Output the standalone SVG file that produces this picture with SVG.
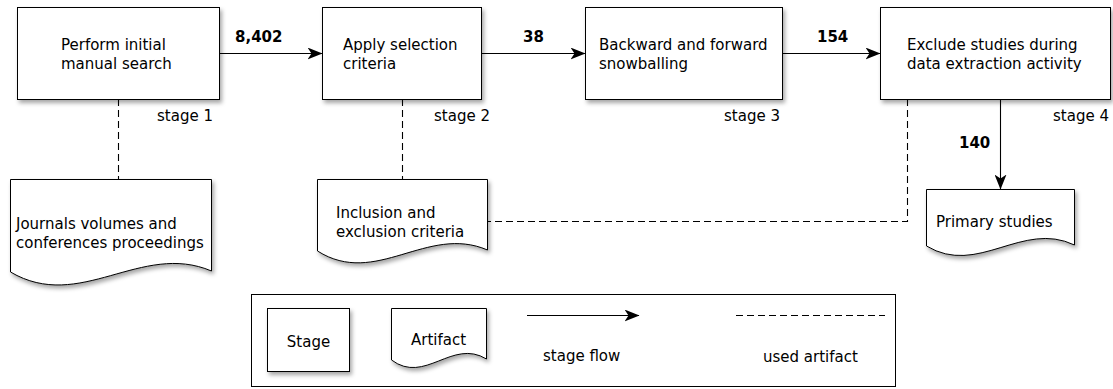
<svg xmlns="http://www.w3.org/2000/svg" width="1113" height="389" viewBox="0 0 1113 389">
<style>
text{font-family:"DejaVu Sans","Liberation Sans",sans-serif;font-size:15px;fill:#000}
.num{font-weight:bold}
.shape{fill:#fff;stroke:#000;stroke-width:1;filter:url(#sh)}
.flow{fill:none;stroke:#000;stroke-width:1.1;marker-end:url(#ah)}
.used{fill:none;stroke:#000;stroke-width:1.1;stroke-dasharray:7 4}
</style>
<defs>
<filter id="sh" x="-10%" y="-10%" width="125%" height="135%">
<feDropShadow dx="2" dy="3" stdDeviation="2" flood-color="#000" flood-opacity="0.35"/>
</filter>
<marker id="ah" viewBox="0 0 15 12" markerWidth="15" markerHeight="12" refX="14.5" refY="6" orient="auto" markerUnits="userSpaceOnUse">
<path d="M0,0 L15,6 L0,12 L4,6 Z" fill="#000"/>
</marker>
</defs>
<rect width="1113" height="389" fill="#fff"/>

<g id="connectors">
<line class="flow" x1="219" y1="53.5" x2="322" y2="53.5"/>
<line class="flow" x1="482" y1="53.5" x2="585" y2="53.5"/>
<line class="flow" x1="783" y1="53.5" x2="880" y2="53.5"/>
<line class="flow" x1="1000.5" y1="99" x2="1000.5" y2="189"/>
<line class="used" x1="118.5" y1="99" x2="118.5" y2="179"/>
<line class="used" x1="402.5" y1="99" x2="402.5" y2="179"/>
<polyline class="used" points="907.5,99 907.5,221.5 487,221.5"/>
<text class="num" x="235" y="42">8,402</text>
<text class="num" x="523" y="42">38</text>
<text class="num" x="817" y="42">154</text>
<text class="num" x="959" y="148">140</text>
</g>

<g id="stage1">
<rect class="shape" x="17.5" y="7.5" width="202" height="92"/>
<text x="61" y="50">Perform initial</text>
<text x="61" y="69">manual search</text>
<text x="157" y="121">stage 1</text>
</g>
<g id="stage2">
<rect class="shape" x="322.5" y="7.5" width="159" height="92"/>
<text x="343" y="50">Apply selection</text>
<text x="343" y="69">criteria</text>
<text x="434" y="121">stage 2</text>
</g>
<g id="stage3">
<rect class="shape" x="585.5" y="7.5" width="197" height="92"/>
<text x="599" y="50">Backward and forward</text>
<text x="599" y="69">snowballing</text>
<text x="724" y="121">stage 3</text>
</g>
<g id="stage4">
<rect class="shape" x="880.5" y="7.5" width="230" height="92"/>
<text x="907" y="50">Exclude studies during</text>
<text x="907" y="69">data extraction activity</text>
<text x="1053" y="121">stage 4</text>
</g>

<g id="artifact-journals">
<path class="shape" d="M10.5,179.5 H211.5 V271 C141,241 80,313 10.5,272 Z"/>
<text x="16" y="229">Journals volumes and</text>
<text x="16" y="248">conferences proceedings</text>
</g>
<g id="artifact-criteria">
<path class="shape" d="M317.5,179.5 H487.5 V250 C427,224 376,288 317.5,251 Z"/>
<text x="336" y="218">Inclusion and</text>
<text x="336" y="237">exclusion criteria</text>
</g>
<g id="artifact-primary">
<path class="shape" d="M926.5,189.5 H1074.5 V245 C1022,220 978,277 926.5,246 Z"/>
<text x="936" y="227">Primary studies</text>
</g>

<g id="legend">
<rect x="251.5" y="294.5" width="644" height="92" fill="#fff" stroke="#000" stroke-width="1"/>
<rect class="shape" x="267.5" y="308.5" width="82" height="63"/>
<text x="308.5" y="347" text-anchor="middle">Stage</text>
<path class="shape" d="M391.5,308.5 H486.5 V359 C452,338 425,385 391.5,360 Z"/>
<text x="438.5" y="345" text-anchor="middle">Artifact</text>
<line class="flow" x1="527" y1="315.5" x2="639" y2="315.5"/>
<text x="543" y="361">stage flow</text>
<line class="used" x1="736" y1="315.5" x2="885" y2="315.5"/>
<text x="763" y="362">used artifact</text>
</g>
</svg>
